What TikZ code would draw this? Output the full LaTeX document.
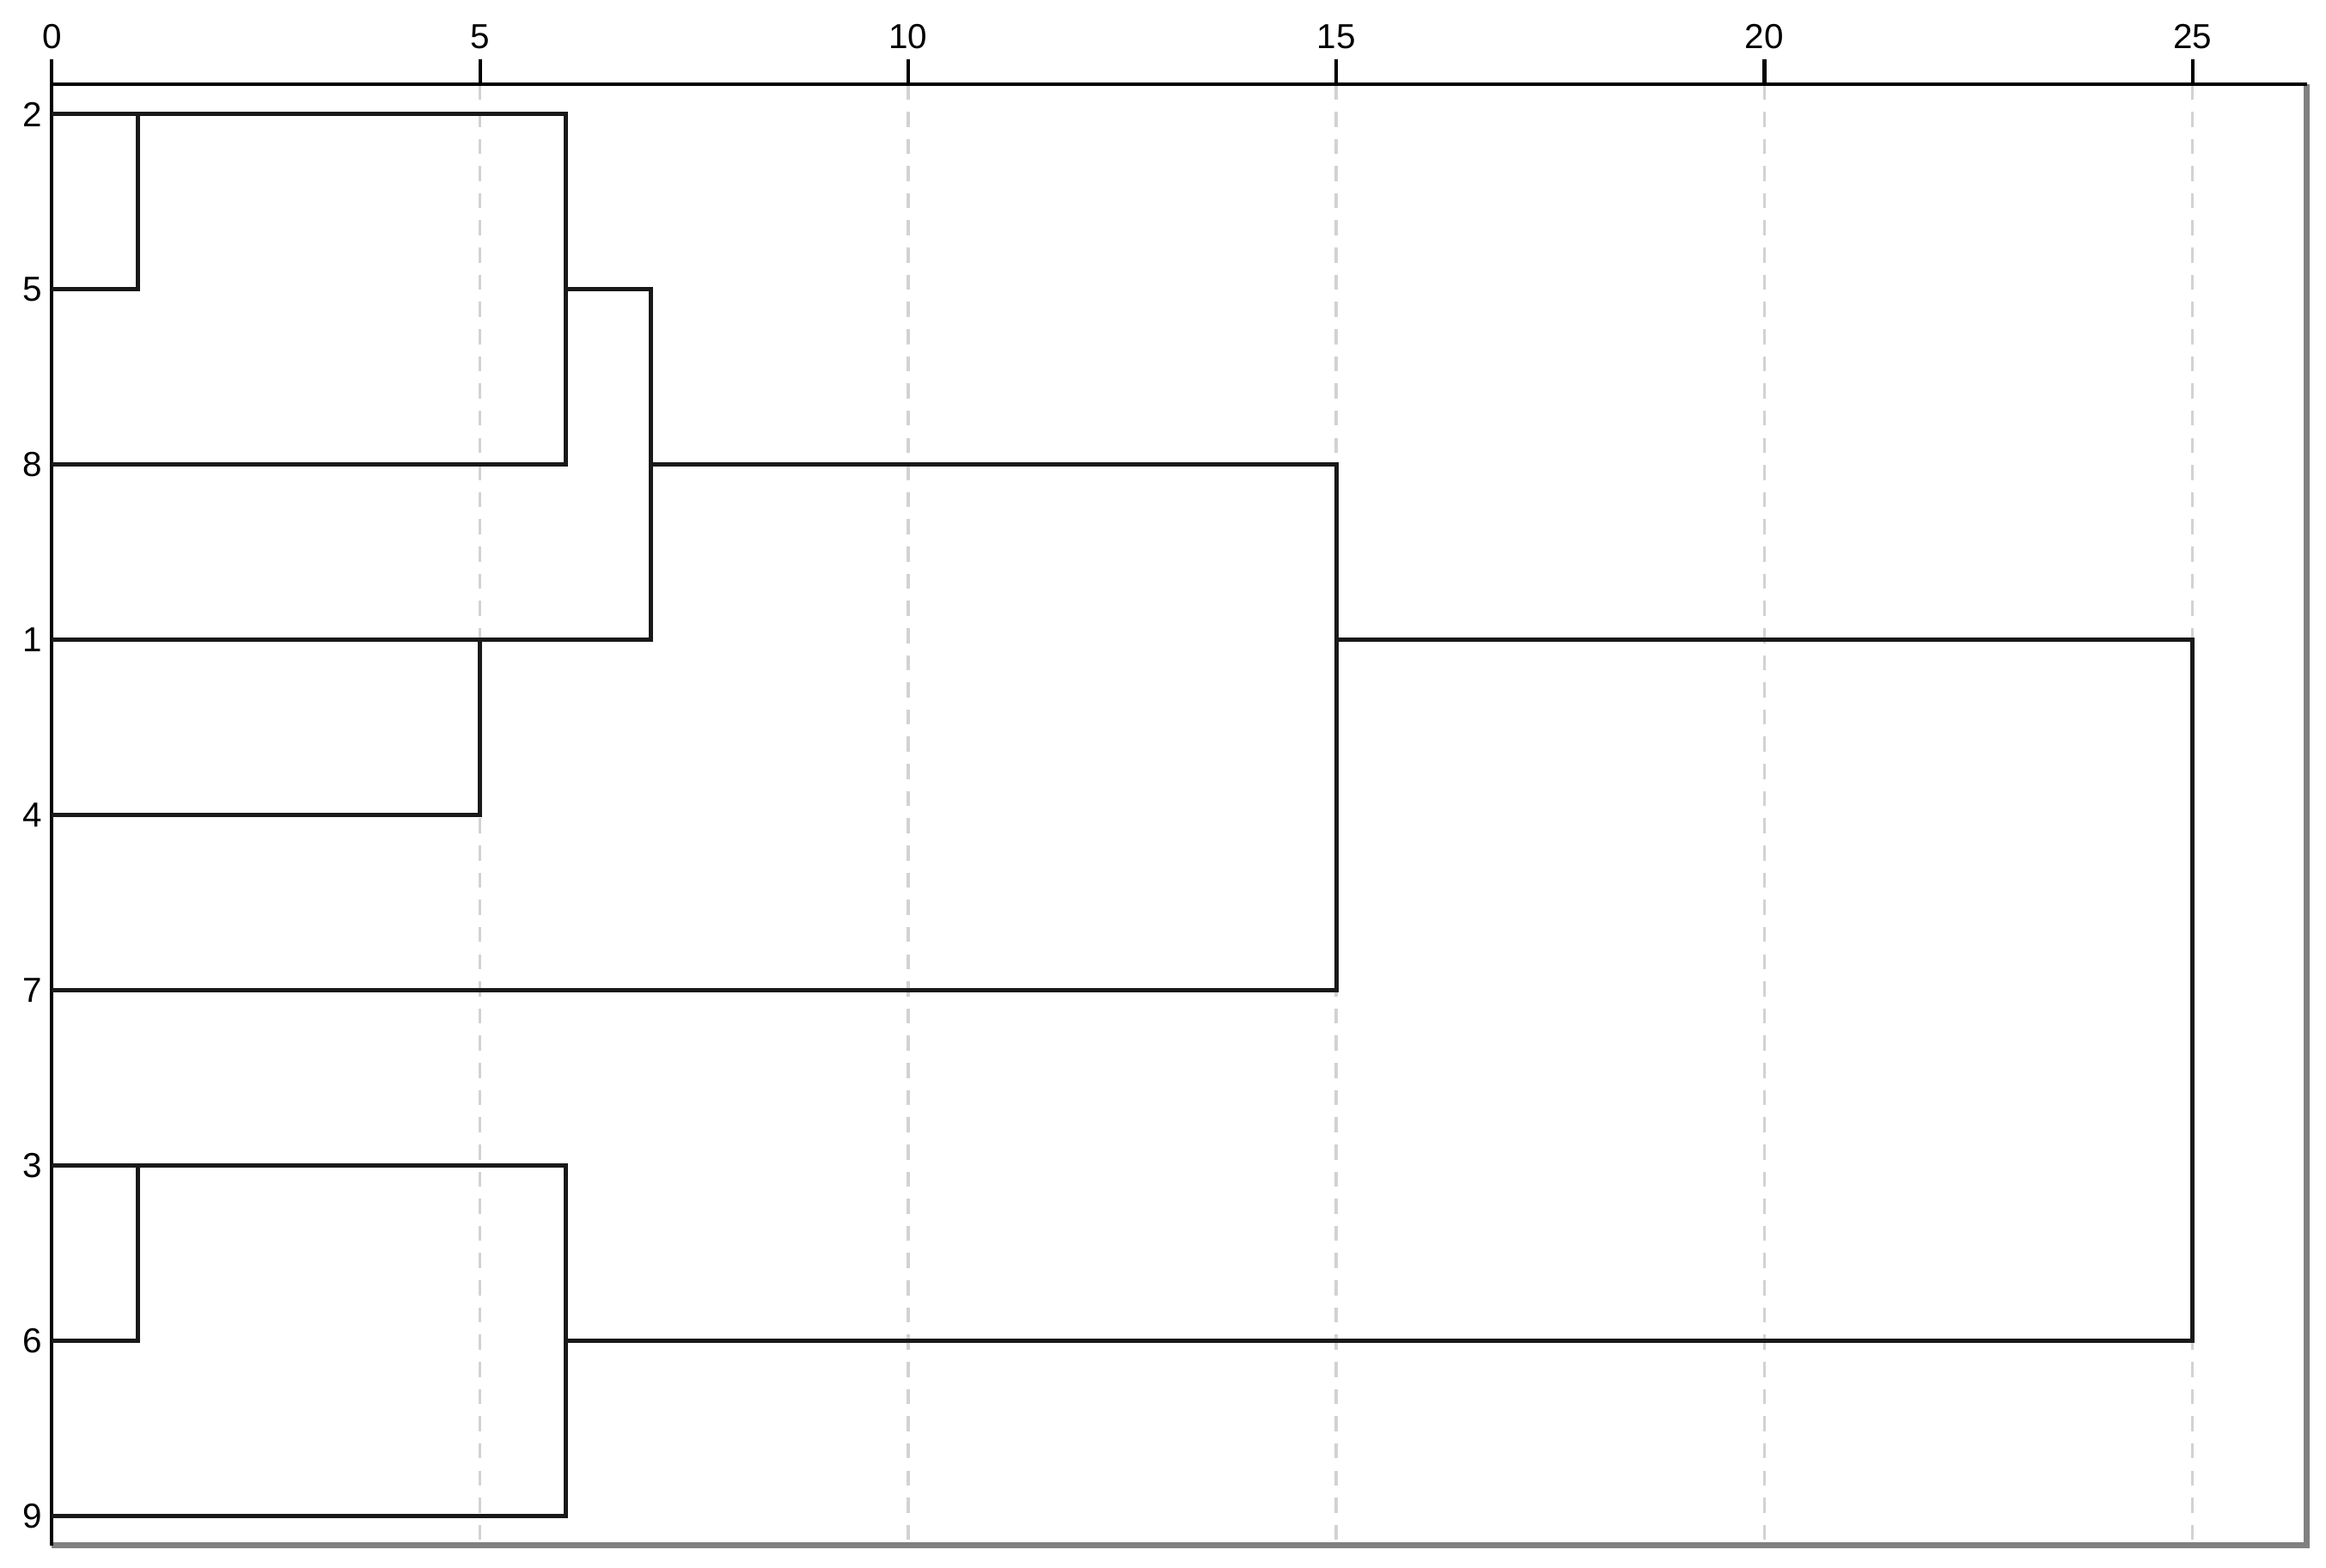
\documentclass[tikz,border=0pt]{standalone}
\usepackage{fontspec}
\setmainfont{Liberation Sans}
\begin{document}
\begin{tikzpicture}[x=0.9965cm,y=-2.04cm,
  lbl/.style={font=\fontsize{11.5}{13}\selectfont, inner sep=0pt},
  dend/.style={line width=1.4pt, black!90, line join=miter},
  grid line/.style={line width=1pt, gray!35, dash pattern=on 5pt off 4pt},
  frame dark/.style={line width=1.2pt, black},
  frame light/.style={line width=2pt, gray}]
\useasboundingbox (-0.606,-0.6515) rectangle (26.559,8.2946);
\fill[white] (-0.606,-0.6515) rectangle (26.559,8.2946);

% grid lines
\foreach \v in {5,10,15,20,25}{
  \draw[grid line] (\v,-0.1696) -- (\v,8.167);
}
% frame
\draw[frame light] (0,8.167) -- (26.334,8.167) -- (26.334,-0.1696);
\draw[frame dark] (26.334,-0.1696) -- (0,-0.1696) -- (0,8.167);

% axis ticks and labels
\foreach \v in {0,5,10,15,20,25}{
  \draw[frame dark] (\v,-0.3132) -- (\v,-0.1696);
  \node[lbl] (t\v) at (\v,-0.4407) {\v};
}

% leaf labels and leaf coordinates
\foreach \lab [count=\i from 0] in {2,5,8,1,4,7,3,6,9}{
  \node[lbl, anchor=east] (l\lab) at (-0.11,\i) {\lab};
  \coordinate (p\lab) at (0,\i);
}

% junctions
\coordinate (a2) at (1,0);  \coordinate (a5) at (1,1);
\coordinate (b2) at (6,0);  \coordinate (b8) at (6,2);
\coordinate (b5) at (6,1);
\coordinate (c5) at (7,1);  \coordinate (c1) at (7,3);
\coordinate (c8) at (7,2);
\coordinate (d1) at (5,3);  \coordinate (d4) at (5,4);
\coordinate (e8) at (15,2); \coordinate (e7) at (15,5);
\coordinate (e1) at (15,3);
\coordinate (f1) at (25,3); \coordinate (f6) at (25,7);
\coordinate (g3) at (1,6);  \coordinate (g6) at (1,7);
\coordinate (h3) at (6,6);  \coordinate (h9) at (6,8);
\coordinate (h6) at (6,7);

% cluster {2,5}
\draw[dend] (p2) -- (a2) -- (a5) -- (p5);
% cluster {2,5,8}
\draw[dend] (a2) -- (b2) -- (b8) -- (p8);
% cluster {1,4}
\draw[dend] (p1) -- (d1) -- (d4) -- (p4);
% cluster {2,5,8,1,4}
\draw[dend] (b5) -- (c5) -- (c1) -- (d1);
% cluster with 7
\draw[dend] (c8) -- (e8) -- (e7) -- (p7);
% cluster {3,6}
\draw[dend] (p3) -- (g3) -- (g6) -- (p6);
% cluster {3,6,9}
\draw[dend] (g3) -- (h3) -- (h9) -- (p9);
% final merge
\draw[dend] (e1) -- (f1) -- (f6) -- (h6);
\end{tikzpicture}
\end{document}
